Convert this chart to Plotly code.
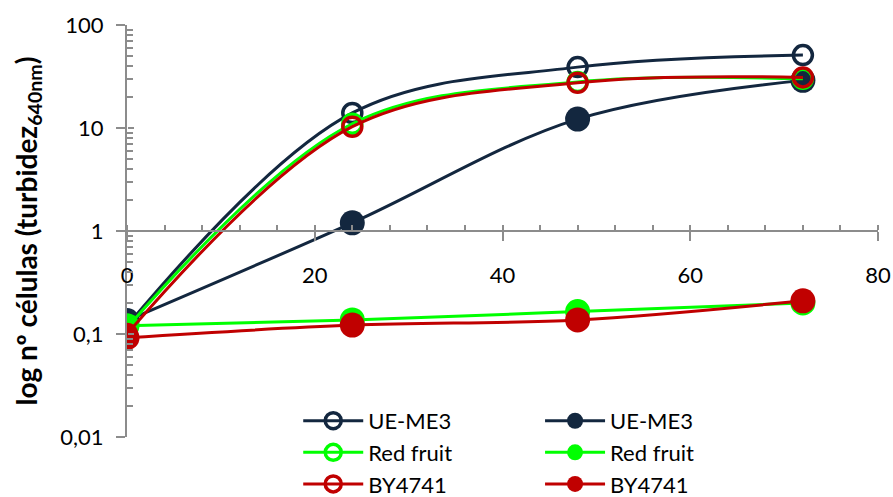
import plotly.graph_objects as go

# Sampling times (h)
hours = [0, 24, 48, 72]

# Turbidity at 640 nm for each strain, two conditions (open / filled markers)
ue_me3_open = [0.12, 14.0, 39.0, 51.0]
ue_me3_filled = [0.135, 1.2, 12.2, 29.0]
red_fruit_open = [0.115, 11.0, 28.0, 30.0]
red_fruit_filled = [0.12, 0.137, 0.165, 0.2]
by4741_open = [0.1, 10.3, 27.5, 31.0]
by4741_filled = [0.092, 0.122, 0.137, 0.21]

# Tick labels for the logarithmic axis (decimal comma)
y_tick_vals = [0.01, 0.1, 1, 10, 100]
y_tick_text = ["0,01", "0,1", "1", "10", "100"]

NAVY = "#13273F"
GREEN = "#00FF00"
RED = "#C00000"
FONT = "Lato"

series = [
    ("UE-ME3", ue_me3_open, NAVY, True),
    ("UE-ME3", ue_me3_filled, NAVY, False),
    ("Red fruit", red_fruit_open, GREEN, True),
    ("Red fruit", red_fruit_filled, GREEN, False),
    ("BY4741", by4741_open, RED, True),
    ("BY4741", by4741_filled, RED, False),
]

fig = go.Figure()
for name, vals, color, is_open in series:
    if is_open:
        marker = dict(symbol="circle-open", size=19, color=color,
                      line=dict(color=color, width=3.5))
    else:
        marker = dict(symbol="circle", size=25, color=color,
                      line=dict(width=0))
    fig.add_trace(go.Scatter(
        x=hours, y=vals, name=name, mode="lines+markers",
        line=dict(color=color, width=3, shape="spline", smoothing=1),
        marker=marker,
        # open-marker series in the left legend column, filled in the right
        legend="legend" if is_open else "legend2",
    ))

# Empty trace so the overlay axes (inner half of the crossing ticks) are drawn
fig.add_trace(go.Scatter(x=[None], y=[None], xaxis="x2", yaxis="y2",
                         showlegend=False, hoverinfo="skip"))

minor_log = [m * 10 ** e for e in range(-2, 2) for m in range(2, 10)]
AXIS_GREY = "#8C8C8C"

legend_style = dict(
    orientation="v", y=0.09, xanchor="left", yanchor="top",
    itemwidth=60, tracegroupgap=0,
    font=dict(family=FONT, size=22, color="black"),
    bgcolor="rgba(0,0,0,0)",
)

fig.update_layout(
    width=893, height=497,
    margin=dict(l=127, r=15, t=25, b=60, autoexpand=False),
    plot_bgcolor="white", paper_bgcolor="white",
    font=dict(family=FONT, size=22, color="black"),
    showlegend=True,
    legend=dict(x=0.228, **legend_style),
    legend2=dict(x=0.55, **legend_style),
    xaxis=dict(
        range=[0, 80], anchor="free", position=0.5,
        tickmode="linear", tick0=0, dtick=20,
        ticks="outside", ticklen=9, tickwidth=2, tickcolor=AXIS_GREY,
        showline=True, linecolor=AXIS_GREY, linewidth=2,
        showgrid=False, zeroline=False,
        ticklabelstandoff=16,
        tickfont=dict(family=FONT, size=22, color="black"),
        minor=dict(ticks="inside", ticklen=5, tickwidth=2,
                   tickcolor=AXIS_GREY, dtick=4, showgrid=False),
    ),
    xaxis2=dict(
        range=[0, 80], overlaying="x", anchor="free", position=0.5,
        tickmode="linear", tick0=0, dtick=20,
        ticks="inside", ticklen=5, tickwidth=2, tickcolor=AXIS_GREY,
        showticklabels=False, showline=False, showgrid=False, zeroline=False,
    ),
    yaxis=dict(
        type="log", range=[-2, 2],
        tickmode="array", tickvals=y_tick_vals, ticktext=y_tick_text,
        ticks="outside", ticklen=9, tickwidth=2, tickcolor=AXIS_GREY,
        showline=True, linecolor=AXIS_GREY, linewidth=2,
        showgrid=False, zeroline=False,
        ticklabelstandoff=8,
        tickfont=dict(family=FONT, size=22, color="black"),
        minor=dict(ticks="inside", ticklen=6, tickwidth=2,
                   tickcolor=AXIS_GREY, tickmode="array",
                   tickvals=minor_log, showgrid=False),
        title=dict(text="<b>log nº células (turbidez<sub>640nm</sub>)</b>",
                   font=dict(family=FONT, size=28, color="black"),
                   standoff=15),
    ),
    yaxis2=dict(
        type="log", range=[-2, 2], overlaying="y", anchor="free", position=0,
        side="left",
        tickmode="array", tickvals=y_tick_vals,
        ticks="inside", ticklen=6, tickwidth=2, tickcolor=AXIS_GREY,
        showticklabels=False, showline=False, showgrid=False, zeroline=False,
    ),
)

fig.write_html("out.html")
